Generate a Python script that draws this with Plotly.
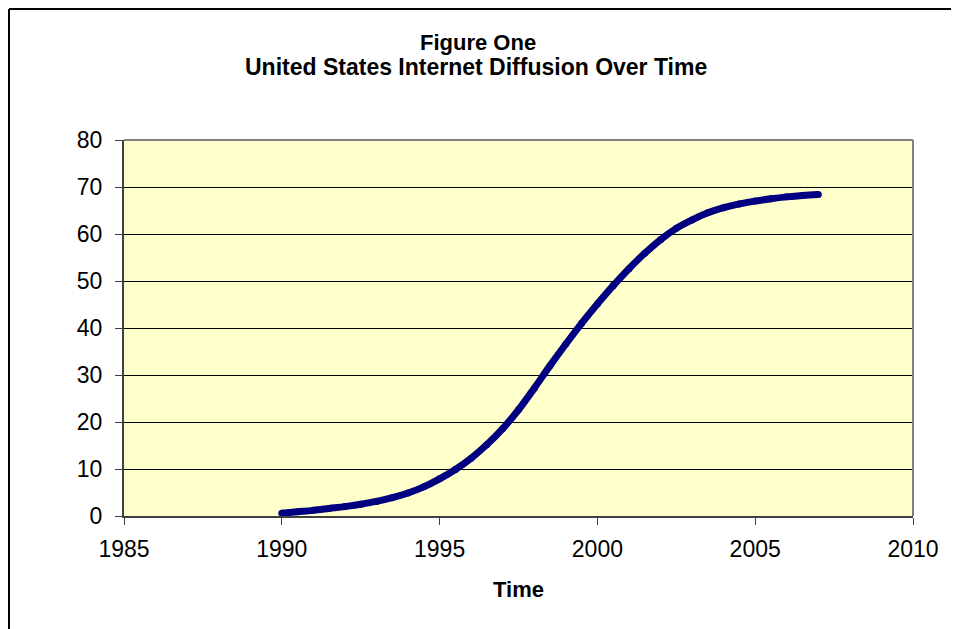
import plotly.graph_objects as go

# Data
years = [1990.0, 1990.5, 1991.0, 1991.5, 1992.0, 1992.5, 1993.0, 1993.5, 1994.0, 1994.5,
         1995.0, 1995.5, 1996.0, 1996.5, 1997.0, 1997.5, 1998.0, 1998.5, 1999.0, 1999.5,
         2000.0, 2000.5, 2001.0, 2001.5, 2002.0, 2002.5, 2003.0, 2003.5, 2004.0, 2004.5,
         2005.0, 2005.5, 2006.0, 2006.5, 2007.0]
diffusion = [0.6, 0.9, 1.2, 1.6, 2.0, 2.5, 3.1, 3.9, 4.9, 6.2,
             7.9, 9.9, 12.3, 15.2, 18.6, 22.6, 27.2, 32.0, 36.6, 41.0,
             45.1, 49.0, 52.6, 55.9, 58.8, 61.2, 63.0, 64.5, 65.6, 66.4,
             67.0, 67.5, 67.9, 68.2, 68.4]
x_ticks = [1985, 1990, 1995, 2000, 2005, 2010]
y_ticks = [0, 10, 20, 30, 40, 50, 60, 70, 80]

title_line1 = "Figure One"
title_line2 = "United States Internet Diffusion Over Time"
x_title = "Time"

FONT = "Arial, 'Liberation Sans', sans-serif"
OFF = 8  # page body margin
W, H = 959 - OFF, 629 - OFF
L, T = 124 - OFF, 140 - OFF
R = W - (913 - OFF)
B = H - (516 - OFF)
pw, ph = W - L - R, H - T - B

def px_x(p):
    return (p - OFF - L) / pw

def px_y(p):
    return (H - B - (p - OFF)) / ph

fig = go.Figure()
fig.add_trace(go.Scatter(
    x=years, y=diffusion, mode="lines+markers",
    line=dict(color="#000080", width=7, shape="spline"),
    marker=dict(color="#000080", size=7),
    showlegend=False, hoverinfo="x+y",
))

fig.update_layout(
    width=W, height=H,
    margin=dict(l=L, r=R, t=T, b=B, pad=0),
    paper_bgcolor="white",
    plot_bgcolor="#FFFFCC",
    font=dict(family=FONT, color="black", size=22),
    xaxis=dict(
        range=[1985, 2010], tickvals=x_ticks, ticktext=[str(v) for v in x_ticks],
        showgrid=False, zeroline=False,
        showline=True, linecolor="#404040", linewidth=2,
        ticks="outside", ticklen=7, tickcolor="#404040", tickwidth=1,
        ticklabelstandoff=4,
        tickfont=dict(size=23, family=FONT),
    ),
    yaxis=dict(
        range=[0, 80], tickvals=y_ticks, ticktext=[str(v) for v in y_ticks],
        showgrid=True, gridcolor="black", gridwidth=1, zeroline=False,
        showline=True, linecolor="#404040", linewidth=2,
        ticks="outside", ticklen=7, tickcolor="#404040", tickwidth=1,
        ticklabelstandoff=8,
        tickfont=dict(size=23, family=FONT),
    ),
    shapes=[
        dict(type="line", xref="paper", yref="paper", x0=0, x1=1, y0=1, y1=1,
             line=dict(color="#808080", width=2), layer="above"),
        dict(type="line", xref="paper", yref="paper", x0=1, x1=1, y0=0, y1=1,
             line=dict(color="#808080", width=2), layer="above"),
        # outer chart border (left and top visible)
        dict(type="line", xref="paper", yref="paper", x0=px_x(OFF + 1), x1=px_x(975),
             y0=px_y(OFF + 1), y1=px_y(OFF + 1), line=dict(color="black", width=2)),
        dict(type="line", xref="paper", yref="paper", x0=px_x(OFF + 1), x1=px_x(OFF + 1),
             y0=px_y(OFF + 1), y1=px_y(650), line=dict(color="black", width=2)),
    ],
    annotations=[
        dict(text="<b>%s</b>" % title_line1, xref="paper", yref="paper",
             x=px_x(478), y=px_y(43), xanchor="center", yanchor="middle",
             showarrow=False, font=dict(size=22, family=FONT)),
        dict(text="<b>%s</b>" % title_line2, xref="paper", yref="paper",
             x=px_x(476), y=px_y(67), xanchor="center", yanchor="middle",
             showarrow=False, font=dict(size=23, family=FONT)),
        dict(text="<b>%s</b>" % x_title, xref="paper", yref="paper",
             x=px_x(518.5), y=px_y(589), xanchor="center", yanchor="middle",
             showarrow=False, font=dict(size=22, family=FONT)),
    ],
)

fig.write_html("out.html")
